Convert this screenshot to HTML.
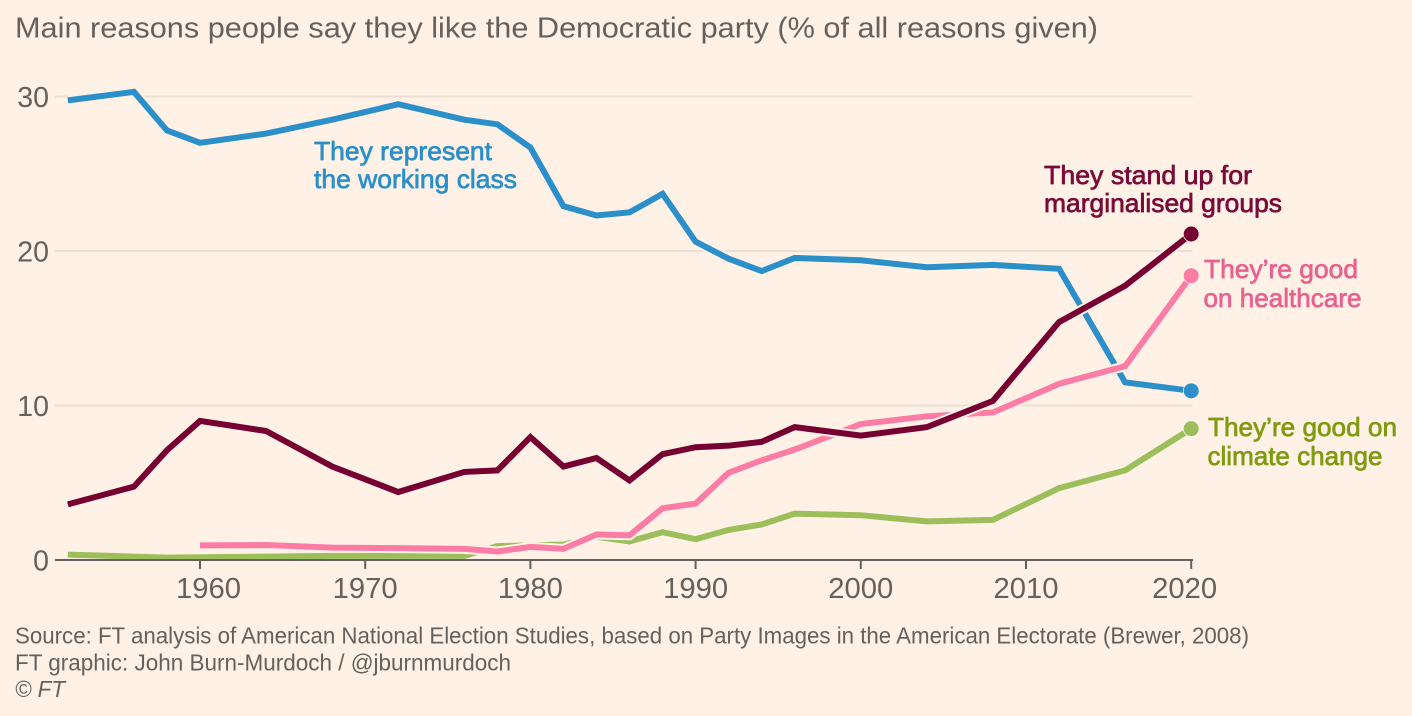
<!DOCTYPE html>
<html lang="en">
<head>
<meta charset="utf-8">
<title>Main reasons people say they like the Democratic party</title>
<style>
  html, body { margin: 0; padding: 0; background: #fff1e5; }
  svg { display: block; }
  text { font-family: "Liberation Sans", sans-serif; }
  .series-label { font-size: 26px; stroke-width: 0.7px; }
</style>
</head>
<body>
<svg id="chart" xmlns="http://www.w3.org/2000/svg" width="1412" height="716" viewBox="0 0 1412 716">
  <rect width="1412" height="716" fill="#fff1e5"/>
  <text x="15" y="37.5" font-size="29" fill="#66605c" textLength="1083" lengthAdjust="spacingAndGlyphs">Main reasons people say they like the Democratic party (% of all reasons given)</text>
  <g id="grid"></g>
  <g id="series"></g>
  <g id="axes"></g>
  <text class="series-label" fill="#2b8fc9" stroke="#2b8fc9"><tspan x="314" y="160" textLength="178" lengthAdjust="spacingAndGlyphs">They represent</tspan><tspan x="314" y="188" textLength="203" lengthAdjust="spacingAndGlyphs">the working class</tspan></text>
  <text class="series-label" fill="#7a0a38" stroke="#7a0a38"><tspan x="1044" y="184" textLength="208" lengthAdjust="spacingAndGlyphs">They stand up for</tspan><tspan x="1044" y="212" textLength="238" lengthAdjust="spacingAndGlyphs">marginalised groups</tspan></text>
  <text class="series-label" fill="#e8628f" stroke="#e8628f"><tspan x="1204" y="278" textLength="154" lengthAdjust="spacingAndGlyphs">They’re good</tspan><tspan x="1203.5" y="307" textLength="158" lengthAdjust="spacingAndGlyphs">on healthcare</tspan></text>
  <text class="series-label" fill="#7f9a0f" stroke="#7f9a0f"><tspan x="1208" y="436" textLength="189" lengthAdjust="spacingAndGlyphs">They’re good on</tspan><tspan x="1207.5" y="465" textLength="175" lengthAdjust="spacingAndGlyphs">climate change</tspan></text>
  <text x="15" y="643.5" font-size="23" fill="#66605c" textLength="1234" lengthAdjust="spacingAndGlyphs">Source: FT analysis of American National Election Studies, based on Party Images in the American Electorate (Brewer, 2008)</text>
  <text x="15" y="670.5" font-size="23" fill="#66605c" textLength="496" lengthAdjust="spacingAndGlyphs">FT graphic: John Burn-Murdoch / @jburnmurdoch</text>
  <text x="15" y="697" font-size="23" font-style="italic" fill="#66605c" textLength="50" lengthAdjust="spacingAndGlyphs">© FT</text>
</svg>
<script>
const yTicks = [0, 10, 20, 30];
const xTicks = [1960, 1970, 1980, 1990, 2000, 2010, 2020];

const yearsBlue = [1952,1956,1958,1960,1964,1968,1972,1976,1978,1980,1982,1984,1986,1988,1990,1992,1994,1996,2000,2004,2008,2012,2016,2020];
const valuesWorkingClass = [29.75,30.3,27.8,27,27.6,28.5,29.5,28.5,28.2,26.7,22.9,22.3,22.5,23.7,20.6,19.5,18.7,19.55,19.4,18.95,19.1,18.85,11.5,10.95];

const yearsGreen = [1952,1956,1958,1960,1964,1968,1972,1976,1978,1980,1982,1984,1986,1988,1990,1992,1994,1996,2000,2004,2008,2012,2016,2020];
const valuesClimate = [0.35,0.22,0.15,0.18,0.22,0.27,0.27,0.27,0.9,0.95,1.0,1.5,1.2,1.8,1.35,1.95,2.3,3.0,2.9,2.5,2.6,4.65,5.8,8.5];

const yearsPink = [1960,1964,1968,1972,1976,1978,1980,1982,1984,1986,1988,1990,1992,1994,1996,2000,2004,2008,2012,2016,2020];
const valuesHealthcare = [0.95,0.97,0.8,0.77,0.72,0.55,0.85,0.72,1.65,1.6,3.35,3.65,5.65,6.45,7.15,8.8,9.3,9.55,11.4,12.55,18.4];

const yearsMaroon = [1952,1956,1958,1960,1964,1968,1972,1976,1978,1980,1982,1984,1986,1988,1990,1992,1994,1996,2000,2004,2008,2012,2016,2020];
const valuesMarginalised = [3.6,4.75,7.1,9,8.35,6.05,4.4,5.7,5.8,7.95,6.05,6.6,5.15,6.85,7.3,7.4,7.65,8.6,8.05,8.6,10.3,15.4,17.75,21.1];

const NS = 'http://www.w3.org/2000/svg';
const xScale = year => 200 + (year - 1960) * 16.52;
const yScale = value => 560 - value * 15.45;

function make(parent, tag, attrs, content) {
  const el = document.createElementNS(NS, tag);
  for (const key in attrs) el.setAttribute(key, attrs[key]);
  if (content !== undefined) el.textContent = content;
  parent.appendChild(el);
  return el;
}

const grid = document.getElementById('grid');
const axes = document.getElementById('axes');
const series = document.getElementById('series');

yTicks.forEach(tick => {
  if (tick !== 0) {
    const line = make(grid, 'line', { x1: 55, x2: 1192.5, y1: yScale(tick), y2: yScale(tick), stroke: '#ebded2', 'stroke-width': 2 });
    
    
  }
  const label = make(axes, 'text', { x: 49, y: yScale(tick) + 10.5, 'text-anchor': 'end', 'font-size': 28.5, fill: '#66605c' }, String(tick));
  
  
});

function drawSeries(name, years, values, color) {
  const points = years.map((year, i) => xScale(year) + ',' + yScale(values[i])).join(' ');
  const haloLine = make(series, 'polyline', { points: points, fill: 'none', stroke: '#fff1e5', 'stroke-width': 10, 'stroke-linejoin': 'miter' });
  
  
  const line = make(series, 'polyline', { points: points, fill: 'none', stroke: color, 'stroke-width': 6, 'stroke-linejoin': 'miter' });
  
  
  const last = years.length - 1;
  const dot = make(series, 'circle', { cx: xScale(years[last]), cy: yScale(values[last]), r: 7.5, fill: color, stroke: '#fff1e5', 'stroke-width': 1.5, 'paint-order': 'stroke' });
  
  
}

drawSeries('working-class', yearsBlue, valuesWorkingClass, '#2b8fc9');
drawSeries('climate-change', yearsGreen, valuesClimate, '#9cbf5c');
drawSeries('healthcare', yearsPink, valuesHealthcare, '#fb7da6');
drawSeries('marginalised-groups', yearsMaroon, valuesMarginalised, '#770033');

const baseline = make(axes, 'line', { x1: 55, x2: 1193, y1: yScale(0), y2: yScale(0), stroke: '#66605c', 'stroke-width': 2 });



xTicks.forEach((tick, i) => {
  const mark = make(axes, 'line', { x1: xScale(tick), x2: xScale(tick), y1: yScale(0), y2: yScale(0) + 9, stroke: '#66605c', 'stroke-width': 2 });
  
  
  const shift = i === 0 ? 8.5 : (i === xTicks.length - 1 ? -6.5 : 0);
  const label = make(axes, 'text', { x: xScale(tick) + shift, y: 598, 'text-anchor': 'middle', 'font-size': 29, fill: '#66605c', textLength: 65, lengthAdjust: 'spacingAndGlyphs' }, String(tick));
  
  
});
</script>
</body>
</html>
